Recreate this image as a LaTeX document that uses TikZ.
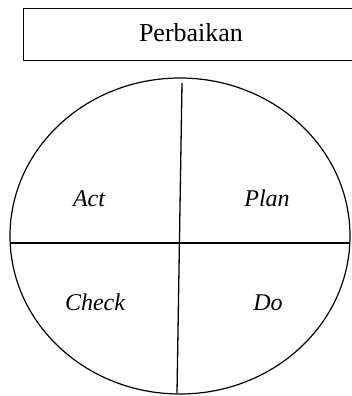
\documentclass[tikz,border=0pt]{standalone}
\usepackage{fontspec}
\setmainfont{Liberation Serif}
\usetikzlibrary{shapes.geometric}
\begin{document}
\begin{tikzpicture}[x=1pt,y=-1pt,
  frame/.style={draw=black,line width=1.2pt},
  rim/.style={draw=black,line width=1.2pt},
  divider/.style={draw=black,line width=1.3pt},
  title/.style={font=\fontsize{26}{30}\selectfont,anchor=base,inner sep=0pt},
  phase/.style={font=\fontsize{24}{28}\selectfont\itshape,anchor=base,inner sep=0pt}]
\useasboundingbox (0,0) rectangle (351,396);
\fill[white] (0,0) rectangle (351,396);
% title box (runs off the right edge)
\node[frame,minimum width=340pt,minimum height=52pt,anchor=north west,inner sep=0pt] (box) at (23,8) {};
\node[title] (perbaikan) at (191,42) {Perbaikan};
% circle
\node[rim,ellipse,minimum width=340pt,minimum height=316pt,inner sep=0pt] (wheel) at (180,236) {};
\coordinate (vtop) at (182,83);
\coordinate (vbot) at (177,393);
\coordinate (hleft) at (10,243);
\coordinate (hright) at (350,243);
\draw[divider] (vtop) -- (vbot);
\draw[divider] (hleft) -- (hright);
\node[phase] (act) at (89,206) {Act};
\node[phase] (plan) at (267,206) {Plan};
\node[phase] (check) at (95,310) {Check};
\node[phase] (do) at (268,310) {Do};
\end{tikzpicture}
\end{document}
